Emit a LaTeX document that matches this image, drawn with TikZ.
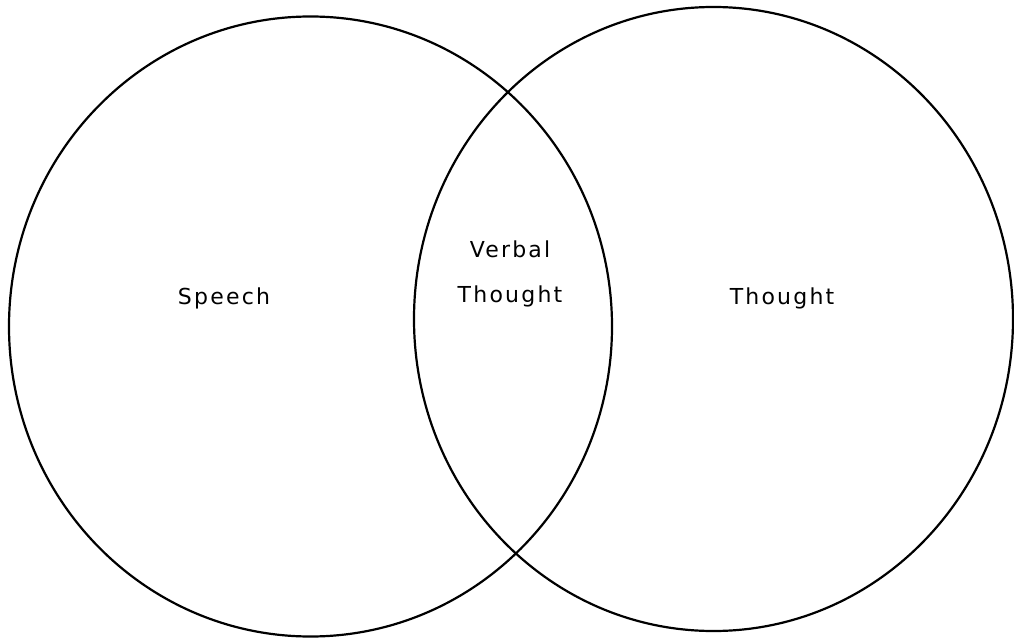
\documentclass[tikz,border=0pt]{standalone}
\usepackage{fontspec}
\newfontfamily\labelfont[LetterSpace=10]{DejaVu Sans}
\begin{document}
\begin{tikzpicture}[x=1pt,y=-1pt,
  setring/.style={draw=black,line width=2.2pt},
  setlabel/.style={font=\labelfont\fontsize{22}{45}\selectfont,text=black,inner sep=0pt,align=center}]
\useasboundingbox (0,0) rectangle (1014,639);
\draw[setring] (310.5,326.5) ellipse [x radius=301.5, y radius=310];
\draw[setring] (713.5,319) ellipse [x radius=299.5, y radius=312];
\node[setlabel,anchor=base] (speech) at (224,304) {Speech};
\node[setlabel] (verbal) at (510,274) {Verbal\\Thought};
\node[setlabel,anchor=base] (thought) at (782,304) {Thought};
\end{tikzpicture}
\end{document}
